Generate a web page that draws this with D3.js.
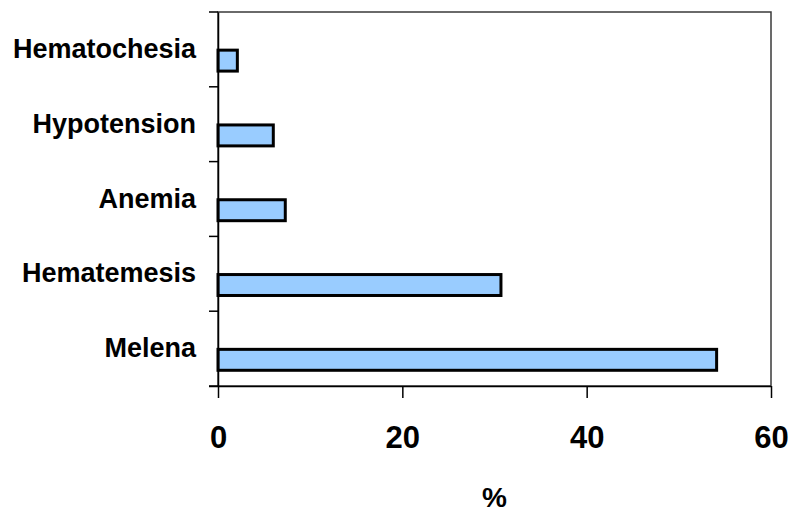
<!DOCTYPE html>
<html>
<head>
<meta charset="utf-8">
<script src="https://cdn.jsdelivr.net/npm/d3@7"></script>
<style>
  html, body { margin: 0; padding: 0; background: #fff; }
  svg { display: block; }
  text { font-family: Arial, "Liberation Sans", sans-serif; font-weight: bold; fill: #000; }
</style>
</head>
<body>
<svg id="chart" width="790" height="514"></svg>
<script>
const categories = ["Hematochesia", "Hypotension", "Anemia", "Hematemesis", "Melena"];
const values = [2.1, 6.0, 7.3, 30.7, 54.1];
const xTicks = [0, 20, 40, 60];
const xTitle = "%";

const W = 790, H = 514;
const m = { left: 218, right: 19, top: 12, bottom: 128 };
const svg = d3.select("#chart");

const x = d3.scaleLinear().domain([0, 60]).range([m.left, W - m.right]);
const y = d3.scaleBand().domain(categories).range([m.top, H - m.bottom]).padding(0);
const bw = y.bandwidth();

// plot frame (top & right)
svg.append("rect")
  .attr("x", x(0)).attr("y", y.range()[0])
  .attr("width", x(60) - x(0)).attr("height", y.range()[1] - y.range()[0])
  .attr("fill", "none").attr("stroke", "#3a3a3a").attr("stroke-width", 1.5);

// bars
svg.append("g").selectAll("rect")
  .data(categories)
  .join("rect")
  .attr("x", x(0))
  .attr("y", (d) => y(d) + bw * 0.51)
  .attr("width", (d, i) => x(values[i]) - x(0))
  .attr("height", bw * 0.28)
  .attr("fill", "#99ccff")
  .attr("stroke", "#000")
  .attr("stroke-width", 3);

// x axis
const xAxis = svg.append("g")
  .attr("transform", `translate(0,${y.range()[1]})`)
  .call(d3.axisBottom(x).tickValues(xTicks).tickSize(12).tickPadding(28).tickSizeOuter(0));
xAxis.select(".domain").attr("stroke", "#000").attr("stroke-width", 1.5)
  .attr("d", `M${x(0) - 9},0.5H${x(60)}`);
xAxis.selectAll(".tick line").attr("stroke", "#000").attr("stroke-width", 1.5);
xAxis.selectAll(".tick text")
  .attr("font-size", 31).attr("font-weight", "bold")
  .attr("font-family", "Arial, 'Liberation Sans', sans-serif").attr("fill", "#000");

// y axis
const yAxis = svg.append("g")
  .attr("transform", `translate(${x(0)},0)`)
  .call(d3.axisLeft(y).tickSize(0).tickPadding(22));
yAxis.select(".domain").attr("stroke", "#000").attr("stroke-width", 1.5);
yAxis.selectAll(".tick text")
  .attr("font-size", 27).attr("font-weight", "bold")
  .attr("font-family", "Arial, 'Liberation Sans', sans-serif").attr("fill", "#000");

// category boundary ticks
const bounds = categories.map((d) => y(d)).concat([y.range()[1]]);
svg.append("g").selectAll("line")
  .data(bounds)
  .join("line")
  .attr("x1", x(0) - 9).attr("x2", x(0))
  .attr("y1", (d) => d).attr("y2", (d) => d)
  .attr("stroke", "#000").attr("stroke-width", 1.5);

// x title
svg.append("text")
  .attr("x", (x(0) + x(60)) / 2)
  .attr("y", 507)
  .attr("text-anchor", "middle")
  .attr("font-size", 28)
  .text(xTitle);
</script>
</body>
</html>
